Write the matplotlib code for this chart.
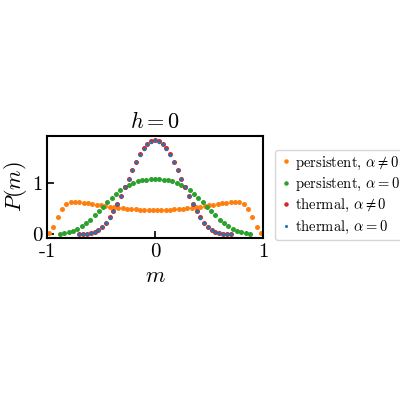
import numpy as np
import matplotlib
matplotlib.use('Agg')
import matplotlib.pyplot as plt

plt.rcParams['font.family'] = 'serif'
plt.rcParams['font.serif'] = ['cmr10', 'DejaVu Serif']
plt.rcParams['mathtext.fontset'] = 'cm'
plt.rcParams['axes.formatter.use_mathtext'] = True

# half profiles (m >= 0), mirrored below
thermal_half = [1.85, 1.82, 1.77, 1.68, 1.56, 1.42, 1.26, 1.09, 0.92, 0.75, 0.59,
                0.45, 0.33, 0.23, 0.15, 0.09, 0.05, 0.03, 0.015, 0.007, 0.003]
thermal_step = 0.035
green_half = [1.08, 1.08, 1.07, 1.06, 1.04, 1.01, 0.97, 0.92, 0.86, 0.79, 0.71, 0.63,
              0.54, 0.45, 0.37, 0.29, 0.22, 0.16, 0.11, 0.07, 0.04, 0.02, 0.01]
green_step = 0.04
orange_half = [0.48, 0.48, 0.48, 0.48, 0.49, 0.49, 0.50, 0.51, 0.52, 0.53, 0.54, 0.55,
               0.57, 0.58, 0.60, 0.61, 0.62, 0.63, 0.64, 0.63, 0.60, 0.50, 0.33, 0.15, 0.03]
orange_m_half = [0.02 + 0.04 * i for i in range(len(orange_half))]

def mirror(vals, step, start=0.0):
    m = [start + step * i for i in range(len(vals))]
    if start == 0.0:
        mm = [-x for x in m[::-1]] + m[1:]
        vv = vals[::-1] + vals[1:]
    else:
        mm = [-x for x in m[::-1]] + m
        vv = vals[::-1] + vals
    return np.array(mm), np.array(vv)

m_th, p_th = mirror(thermal_half, thermal_step)
m_gr, p_gr = mirror(green_half, green_step)
m_or, p_or = mirror(orange_half, 0.04, 0.02)

fig = plt.figure(figsize=(4, 4), dpi=100)
ax = fig.add_axes([0.1175, 0.405, 0.54, 0.255])
ms = 3.6
ax.plot(m_or, p_or, 'o', color='#ff7f0e', ms=ms, mec='none', label=r'persistent, $\alpha \neq 0$')
ax.plot(m_gr, p_gr, 'o', color='#2ca02c', ms=ms, mec='none', label=r'persistent, $\alpha = 0$')
ax.plot(m_th, p_th, 'o', color='#d62728', ms=ms, mec='none', label=r'thermal, $\alpha \neq 0$')
ax.plot(m_th, p_th * 0.995, 'o', color='#1f77b4', ms=ms * 0.7, mec='none', label=r'thermal, $\alpha = 0$')

ax.set_xlim(-1, 1)
ax.set_ylim(-0.07, 1.92)
ax.set_xticks([-1, 0, 1])
ax.set_xticklabels(['-1', '0', '1'])
ax.set_yticks([0, 1])
ax.set_yticklabels(['0', '1'])
ax.tick_params(direction='in', labelsize=15, length=5, width=1.2)
for s in ax.spines.values():
    s.set_linewidth(1.5)
ax.set_xlabel(r'$m$', fontsize=16)
ax.set_ylabel(r'$P(m)$', fontsize=16, labelpad=2)
ax.set_title(r'$h = 0$', fontsize=16)
ax.legend(loc='center left', bbox_to_anchor=(1.02, 0.42), fontsize=10.5,
          handletextpad=0.1, handlelength=1.0, borderpad=0.3, labelspacing=0.3,
          markerscale=0.9)
fig.savefig('out.png', dpi=100)
